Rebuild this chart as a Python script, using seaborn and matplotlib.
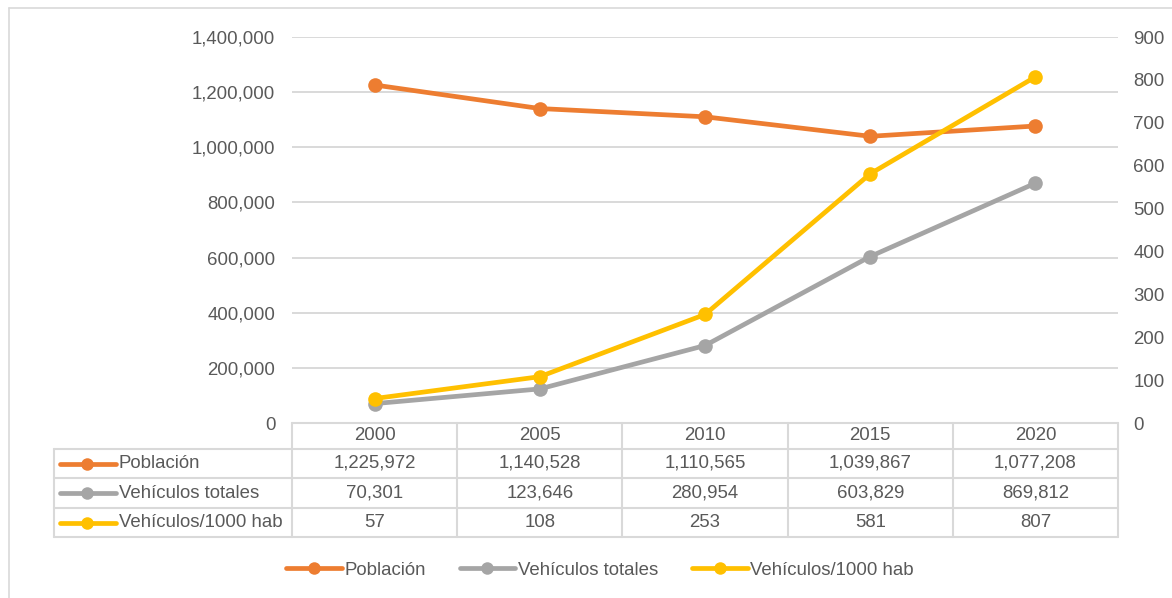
import numpy as np
import pandas as pd
import matplotlib
matplotlib.use("Agg")
import matplotlib.pyplot as plt
import seaborn as sns
from matplotlib.lines import Line2D
from matplotlib.transforms import blended_transform_factory
from matplotlib.ticker import FuncFormatter, MultipleLocator

# Data
years = ["2000", "2005", "2010", "2015", "2020"]
poblacion = [1225972, 1140528, 1110565, 1039867, 1077208]
vehiculos_totales = [70301, 123646, 280954, 603829, 869812]
vehiculos_por_mil = [57, 108, 253, 581, 807]
series_names = ["Población", "Vehículos totales", "Vehículos/1000 hab"]

ORANGE = "#ED7D31"
GRAY = "#A5A5A5"
YELLOW = "#FFC000"
TEXT = "#595959"
GRID = "#D9D9D9"
FS = 13.4
LW = 3.4
MS = 10.5
KEY_MS = 9

sns.set_theme(style="white")
plt.rcParams["font.family"] = ["Liberation Sans", "DejaVu Sans"]

W, H = 1172, 598
fig = plt.figure(figsize=(W / 100, H / 100), dpi=100)
fig.patch.set_facecolor("white")


def fx(px):
    return px / W


def fy(py):
    return 1 - py / H


ax = fig.add_axes([fx(292), fy(423), fx(1118) - fx(292), fy(37) - fy(423)])
ax2 = ax.twinx()

x = np.arange(len(years))
df = pd.DataFrame({
    "pos": x,
    "poblacion": poblacion,
    "vehiculos": vehiculos_totales,
    "por_mil": vehiculos_por_mil,
})

line_kw = dict(linewidth=LW, marker="o", markersize=MS, markeredgewidth=0)
sns.lineplot(data=df, x="pos", y="poblacion", ax=ax, color=ORANGE, **line_kw)
sns.lineplot(data=df, x="pos", y="vehiculos", ax=ax, color=GRAY, **line_kw)
sns.lineplot(data=df, x="pos", y="por_mil", ax=ax2, color=YELLOW, **line_kw)

for a in (ax, ax2):
    a.set_xlim(-0.5, len(years) - 0.5)
    a.set_xlabel("")
    a.set_ylabel("")
    a.set_xticks([])
    for s in a.spines.values():
        s.set_visible(False)
    a.patch.set_visible(False)

ax.set_ylim(0, 1400000)
ax.yaxis.set_major_locator(MultipleLocator(200000))
ax.yaxis.set_major_formatter(FuncFormatter(lambda v, p: f"{int(v):,}"))
ax.grid(axis="y", color=GRID, linewidth=1.4)
ax.set_axisbelow(True)
ax.tick_params(axis="y", length=0, pad=12, labelsize=FS, labelcolor=TEXT)

ax2.set_ylim(0, 900)
ax2.yaxis.set_major_locator(MultipleLocator(100))
ax2.grid(False)
ax2.tick_params(axis="y", length=0, pad=11, labelsize=FS, labelcolor=TEXT)

# Data table below the plot
def hline(x0, x1, y, lw=1.5):
    fig.add_artist(Line2D([fx(x0), fx(x1)], [fy(y), fy(y)], transform=fig.transFigure,
                          color=GRID, linewidth=lw))


def vline(xp, y0, y1, lw=1.5):
    fig.add_artist(Line2D([fx(xp), fx(xp)], [fy(y0), fy(y1)], transform=fig.transFigure,
                          color=GRID, linewidth=lw))


row_edges = [423, 449, 478, 508, 537]
hline(292, 1118, row_edges[0])
for yy in row_edges[1:]:
    hline(54, 1118, yy)
vline(54, row_edges[1], row_edges[-1])
col_edges = np.linspace(292, 1118, len(years) + 1)
for xe in col_edges:
    vline(xe, row_edges[0], row_edges[-1])

trans = blended_transform_factory(ax.transData, fig.transFigure)
centers = [(row_edges[i] + row_edges[i + 1]) / 2 for i in range(4)]
for i, yr in enumerate(years):
    ax.text(i, fy(centers[0]), yr, transform=trans, ha="center", va="center",
            fontsize=FS, color=TEXT)

rows = [poblacion, vehiculos_totales, vehiculos_por_mil]
colors = [ORANGE, GRAY, YELLOW]
for r, (vals, name, col) in enumerate(zip(rows, series_names, colors)):
    yc = centers[r + 1]
    fig.add_artist(Line2D([fx(60), fx(116)], [fy(yc), fy(yc)], transform=fig.transFigure,
                          color=col, linewidth=LW, solid_capstyle="round"))
    fig.add_artist(Line2D([fx(87)], [fy(yc)], transform=fig.transFigure, color=col,
                          marker="o", markersize=KEY_MS, markeredgewidth=0, linestyle="none"))
    fig.text(fx(119), fy(yc), name, ha="left", va="center", fontsize=FS, color=TEXT)
    for i, v in enumerate(vals):
        ax.text(i, fy(yc), f"{v:,}", transform=trans, ha="center", va="center",
                fontsize=FS, color=TEXT)

# Legend
handles = [Line2D([], [], color=c, linewidth=LW, marker="o", markersize=KEY_MS,
                  markeredgewidth=0, solid_capstyle="round") for c in colors]
leg = fig.legend(handles, series_names, loc="center", bbox_to_anchor=(fx(600), fy(570)),
                 ncol=3, frameon=False, fontsize=FS, handlelength=3.0,
                 handletextpad=0.15, columnspacing=1.8)
for t in leg.get_texts():
    t.set_color(TEXT)

# Chart border
fig.add_artist(Line2D([fx(9), fx(1172)], [fy(8), fy(8)], transform=fig.transFigure,
                      color=GRID, linewidth=1.2))
fig.add_artist(Line2D([fx(9), fx(9)], [fy(8), fy(598)], transform=fig.transFigure,
                      color=GRID, linewidth=1.2))

fig.savefig("out.png", dpi=100)
